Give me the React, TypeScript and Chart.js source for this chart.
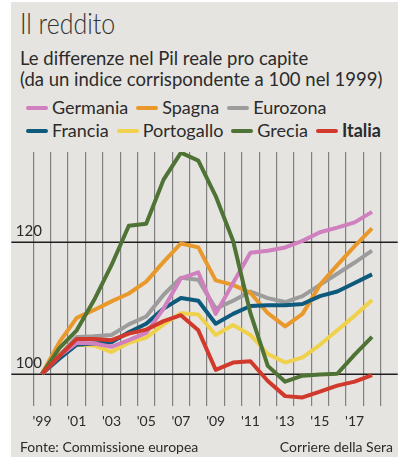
import React, { useEffect, useRef } from "react";
import { Chart, registerables } from "chart.js";

Chart.register(...registerables);

// ---------- data ----------
const years = [1999, 2000, 2001, 2002, 2003, 2004, 2005, 2006, 2007, 2008, 2009, 2010, 2011, 2012, 2013, 2014, 2015, 2016, 2017, 2018];

const germania = [100, 102.7, 104.7, 104.6, 104.1, 105.1, 106.2, 109.9, 114.5, 115.4, 109.1, 113.8, 118.4, 118.7, 119.2, 120.2, 121.5, 122.2, 123.0, 124.6];
const spagna = [100, 104.8, 108.5, 109.7, 111.0, 112.2, 114.0, 117.0, 119.8, 119.2, 114.2, 113.5, 112.3, 109.2, 107.2, 109.1, 113.5, 116.5, 119.4, 122.1];
const eurozona = [100, 102.8, 105.6, 105.7, 105.9, 107.5, 108.7, 112.0, 114.6, 114.3, 109.9, 111.1, 112.5, 111.5, 110.9, 111.8, 113.5, 115.2, 116.9, 118.7];
const francia = [100, 102.3, 104.4, 104.6, 104.8, 106.3, 107.6, 109.9, 111.5, 111.1, 107.6, 109.1, 110.3, 110.4, 110.4, 110.6, 111.8, 112.5, 113.8, 115.1];
const portogallo = [100, 102.5, 104.4, 104.3, 103.3, 104.7, 105.5, 107.5, 109.2, 109.0, 105.9, 107.4, 105.9, 103.0, 101.7, 102.5, 104.4, 106.6, 108.8, 111.2];
const grecia = [100, 103.9, 106.6, 111.2, 116.5, 122.5, 122.8, 129.5, 133.6, 132.4, 127.0, 120.2, 109.2, 101.2, 98.8, 99.7, 99.9, 100.0, 102.9, 105.6];
const italia = [100, 102.7, 105.3, 105.3, 105.1, 106.1, 106.7, 108.0, 108.9, 106.6, 100.6, 101.7, 101.9, 98.9, 96.6, 96.4, 97.3, 98.2, 98.8, 99.8];

const referenceValues = [100, 120];

const seriesNames = ["Germania", "Spagna", "Eurozona", "Francia", "Portogallo", "Grecia", "Italia"];
const seriesValues = [germania, spagna, eurozona, francia, portogallo, grecia, italia];
const seriesColors = ["#d07fbf", "#e9992c", "#9c9c9c", "#0d5a7c", "#efd14b", "#4f7335", "#d0392b"];
const seriesOrder = [2, 4, 6, 3, 5, 1, 0];
const legendRows = [
  ["Germania", "Spagna", "Eurozona"],
  ["Francia", "Portogallo", "Grecia", "Italia"],
];
const boldSeries = ["Italia"];

const TEXT = "#2b2b2b";
const FONT = "Lato, 'Noto Sans', sans-serif";

const refLinePlugin = {
  id: "refLines",
  beforeDatasetsDraw(chart: any) {
    const { ctx, chartArea } = chart;
    const y = chart.scales.y;
    ctx.save();
    referenceValues.forEach((v) => {
      const py = Math.round(y.getPixelForValue(v)) + 0.25;
      ctx.strokeStyle = "#1f1f1f";
      ctx.lineWidth = 1.5;
      ctx.beginPath();
      ctx.moveTo(chartArea.left - 22, py);
      ctx.lineTo(chartArea.right + 17, py);
      ctx.stroke();
      ctx.fillStyle = TEXT;
      ctx.font = "15px Lato";
      ctx.textBaseline = "alphabetic";
      ctx.textAlign = "left";
      ctx.fillText(String(v), chartArea.left - 17.5, py - 6);
    });
    ctx.restore();
  },
};

function ChartCanvas() {
  const ref = useRef<HTMLCanvasElement | null>(null);
  useEffect(() => {
    if (!ref.current) return;
    const chart = new Chart(ref.current, {
      type: "line",
      data: {
        labels: years.map(String),
        datasets: seriesNames.map((name, i) => ({
          label: name,
          data: seriesValues[i],
          borderColor: seriesColors[i],
          backgroundColor: seriesColors[i],
          borderWidth: 4,
          pointRadius: 0,
          pointHoverRadius: 0,
          tension: 0,
          fill: false,
          order: seriesOrder[i],
          borderJoinStyle: "round",
          borderCapStyle: "butt",
        })),
      },
      options: {
        animation: false,
        responsive: false,
        maintainAspectRatio: false,
        events: [],
        layout: { padding: { left: 33.3, right: 21.3, top: 152, bottom: 30.2 } },
        plugins: {
          legend: { display: false },
          tooltip: { enabled: false },
          title: { display: false },
        },
        scales: {
          x: {
            type: "category",
            offset: true,
            grid: { offset: true, color: "#808080", lineWidth: 1.2, drawTicks: false },
            border: { display: false },
            ticks: {
              autoSkip: false,
              maxRotation: 0,
              minRotation: 0,
              padding: 7,
              color: TEXT,
              font: { family: "Lato", size: 14 },
              callback: (_v: any, i: number) => (i % 2 === 0 ? "'" + String(years[i]).slice(2) : ""),
            },
          },
          y: {
            display: false,
            min: 95.1,
            max: 133.7,
          },
        },
      },
      plugins: [refLinePlugin],
    } as any);
    return () => chart.destroy();
  }, []);
  return <canvas ref={ref} width={402} height={467} style={{ position: "absolute", left: 0, top: 0 }} />;
}

function LegendItem({ name }: { name: string }) {
  const i = seriesNames.indexOf(name);
  return (
    <div style={{ display: "flex", alignItems: "center", marginRight: 8 }}>
      <span
        style={{
          display: "inline-block",
          width: 22,
          height: 4,
          borderRadius: 2,
          background: seriesColors[i],
          marginRight: 4,
          marginTop: 2,
        }}
      />
      <span style={{ fontWeight: boldSeries.includes(name) ? 700 : 400 }}>{name}</span>
    </div>
  );
}

export default function App() {
  useEffect(() => {
    document.body.style.margin = "0";
  }, []);
  return (
    <div
      style={{
        position: "absolute",
        left: 0,
        top: 0,
        width: 402,
        height: 467,
        background: "#ffffff",
        overflow: "hidden",
        fontFamily: FONT,
        color: TEXT,
      }}
    >
      <div style={{ position: "absolute", left: 11, top: 2, width: 387, height: 455, background: "#e6e4e0" }} />
      <div
        style={{
          position: "absolute",
          left: 20,
          top: 6,
          fontFamily: FONT,
          fontWeight: 300,
          fontSize: 29,
          lineHeight: "34px",
          color: "#333333",
          whiteSpace: "nowrap",
          transform: "scaleX(0.86)",
          transformOrigin: "left top",
        }}
      >
        Il reddito
      </div>
      <div
        style={{
          position: "absolute",
          left: 20,
          top: 47.7,
          fontSize: 18.5,
          lineHeight: "21.6px",
          whiteSpace: "nowrap",
        }}
      >
        <div>Le differenze nel Pil reale pro capite</div>
        <div>(da un indice corrispondente a 100 nel 1999)</div>
      </div>
      <div style={{ position: "absolute", left: 26, top: 96, fontSize: 18, lineHeight: "22.7px" }}>
        {legendRows.map((row, r) => (
          <div key={r} style={{ display: "flex", whiteSpace: "nowrap" }}>
            {row.map((n) => (
              <LegendItem key={n} name={n} />
            ))}
          </div>
        ))}
      </div>
      <ChartCanvas />
      <div style={{ position: "absolute", left: 20, top: 438, fontSize: 14, lineHeight: "17px", whiteSpace: "nowrap" }}>
        Fonte: Commissione europea
      </div>
      <div style={{ position: "absolute", right: 9, top: 438, fontSize: 14, lineHeight: "17px", whiteSpace: "nowrap" }}>
        Corriere della Sera
      </div>
    </div>
  );
}
